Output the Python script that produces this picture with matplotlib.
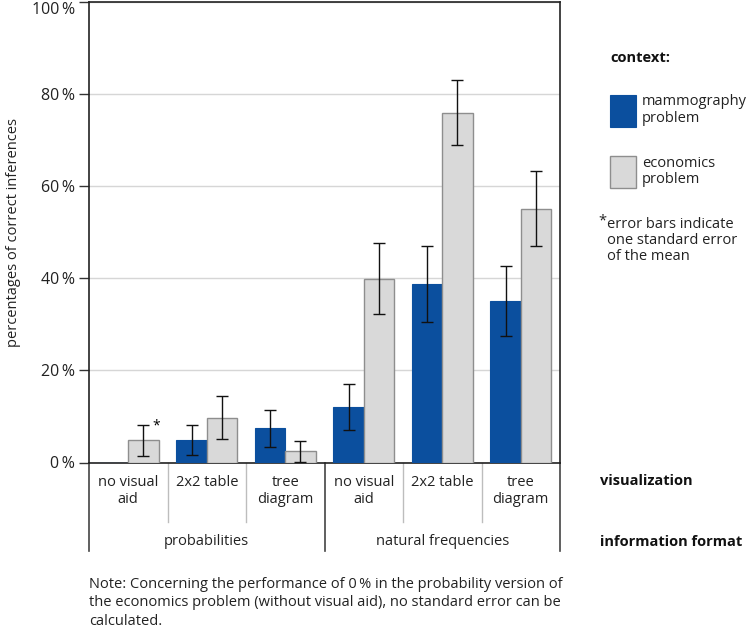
import matplotlib
matplotlib.use("Agg")
from matplotlib import pyplot as plt
from matplotlib.patches import Rectangle
import matplotlib.transforms as mtransforms
import numpy as np

plt.rcParams['font.family'] = ['Open Sans', 'DejaVu Sans']

# data (percent correct inferences)
visualizations = ["no visual\naid", "2x2 table", "tree\ndiagram"] * 2
formats = ["probabilities", "natural frequencies"]
mammography = [0.0, 4.9, 7.4, 12.0, 38.8, 35.0]
mammography_se = [np.nan, 3.3, 4.1, 5.0, 8.2, 7.6]
economics = [4.8, 9.75, 2.4, 39.9, 76.0, 55.1]
economics_se = [3.3, 4.65, 2.3, 7.75, 7.0, 8.15]

BLUE = "#0b4f9e"
GRAY = "#d9d9d9"
W, H = 746, 629

fig = plt.figure(figsize=(W / 100, H / 100), dpi=100)
ax = fig.add_axes([89 / W, 1 - 462.5 / H, (560 - 89) / W, (462.5 - 2) / H])

x = np.arange(len(mammography))
bw = 0.387
ax.bar(x - bw / 2, mammography, bw, color=BLUE, edgecolor=BLUE, linewidth=0.8, zorder=3)
ax.bar(x + bw / 2, economics, bw, color=GRAY, edgecolor="#8e8e8e", linewidth=1.0, zorder=3)
ax.errorbar(x - bw / 2, mammography, yerr=mammography_se, fmt="none", ecolor="#111111",
            elinewidth=1.0, capsize=4, capthick=1.0, zorder=4)
ax.errorbar(x + bw / 2, economics, yerr=economics_se, fmt="none", ecolor="#111111",
            elinewidth=1.0, capsize=4, capthick=1.0, zorder=4)
ax.text(x[0] + bw / 2 + 0.12, economics[0] + economics_se[0] - 0.2, "*", fontsize=10,
        ha="left", va="center", zorder=5)

ax.set_xlim(-0.5, 5.5)
ax.set_ylim(0, 100)
ax.set_yticks(range(0, 101, 20))
ax.set_yticklabels([f"{v}\u2009%" for v in range(0, 101, 20)], fontsize=11.5, color="#222222")
ax.get_yticklabels()[-1].set_va("top")
ax.tick_params(axis="y", length=7, width=1, color="#333333", pad=3)
ax.set_xticks([])
ax.yaxis.grid(True, color="#d6d6d6", linewidth=1, zorder=0)
for s in ax.spines.values():
    s.set_color("#222222")
    s.set_linewidth(1.2)
ax.set_ylabel("percentages of correct inferences", fontsize=10.5, color="#222222", labelpad=8)

# category table below the axis
trans = mtransforms.blended_transform_factory(ax.transData, fig.transFigure)
fy = lambda py: 1 - py / H
for b in [0.5, 1.5, 3.5, 4.5]:
    ax.plot([b, b], [fy(462.5), fy(521.5)], transform=trans, color="#bdbdbd",
            linewidth=1, clip_on=False)
for b in [-0.5, 2.5, 5.5]:
    ax.plot([b, b], [fy(462.5), fy(551)], transform=trans, color="#444444",
            linewidth=1.2, clip_on=False)
for xi, lab in zip(x, visualizations):
    ax.text(xi, fy(474.5), lab, transform=trans, ha="center", va="top", fontsize=10.5,
            color="#222222", linespacing=1.2)
for i, lab in enumerate(formats):
    ax.text(3 * i + 1, fy(541.5), lab, transform=trans, ha="center", va="center",
            fontsize=10.5, color="#222222")

fig.text(600 / W, fy(481), "visualization", fontsize=10.5, fontweight="bold",
         va="center", ha="left", color="#111111")
fig.text(600 / W, fy(541.5), "information format", fontsize=10.5, fontweight="bold",
         va="center", ha="left", color="#111111")

# legend
fig.text(610 / W, fy(58), "context:", fontsize=10.5, fontweight="bold", va="center",
         ha="left", color="#111111")
fig.patches.append(Rectangle((610 / W, fy(126.5)), 25.5 / W, 32 / H, transform=fig.transFigure,
                             facecolor=BLUE, edgecolor=BLUE, linewidth=0.8))
fig.patches.append(Rectangle((610 / W, fy(188)), 25.5 / W, 32 / H, transform=fig.transFigure,
                             facecolor=GRAY, edgecolor="#8e8e8e", linewidth=1.0))
fig.text(642 / W, fy(110), "mammography\nproblem", fontsize=10.5, va="center", ha="left",
         color="#222222", linespacing=1.1)
fig.text(642 / W, fy(171.5), "economics\nproblem", fontsize=10.5, va="center", ha="left",
         color="#222222", linespacing=1.1)
fig.text(598 / W, fy(221), "*", fontsize=10.5, va="center", ha="left", color="#222222")
fig.text(607 / W, fy(240.5), "error bars indicate\none standard error\nof the mean",
         fontsize=10.5, va="center", ha="left", color="#222222", linespacing=1.1)

# note
fig.text(89 / W, fy(603), "Note: Concerning the performance of 0\u2009% in the probability version of\n"
         "the economics problem (without visual aid), no standard error can be\ncalculated.",
         fontsize=10.5, va="center", ha="left", color="#222222", linespacing=1.35)

fig.savefig("out.png", dpi=100)
